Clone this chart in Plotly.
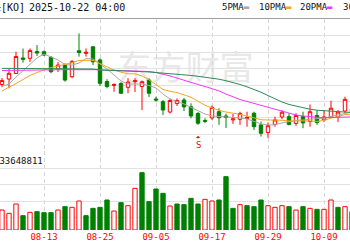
import plotly.graph_objects as go

# ---------------- data ----------------
dates = ["08-05", "08-06", "08-07", "08-08", "08-11", "08-12", "08-13", "08-14", "08-15",
         "08-18", "08-19", "08-20", "08-21", "08-22", "08-25", "08-26", "08-27", "08-28",
         "08-29", "09-02", "09-03", "09-04", "09-05", "09-08", "09-09", "09-10", "09-11",
         "09-12", "09-15", "09-16", "09-17", "09-18", "09-19", "09-22", "09-23", "09-24",
         "09-25", "09-26", "09-29", "09-30", "10-01", "10-02", "10-03", "10-06", "10-07",
         "10-08", "10-09", "10-10", "10-13", "10-14", "10-15"]

tick_dates = ["08-13", "08-25", "09-05", "09-17", "09-29", "10-09"]

opens = [68.03, 68.36, 68.70, 69.64, 69.62, 70.03, 70.02, 69.68, 68.97, 69.21,
         68.50, 70.08, 69.92, 70.32, 69.52, 68.21, 67.97, 68.09, 67.86, 68.20,
         67.91, 68.30, 67.15, 66.99, 66.36, 66.88, 67.09, 66.68, 66.27, 65.85,
         66.00, 66.38, 66.12, 65.88, 65.92, 65.97, 66.29, 65.58, 65.12, 65.61,
         66.06, 66.08, 65.67, 66.09, 65.78, 66.15, 65.88, 66.08, 66.06, 66.42,
         66.55]
highs = [68.42, 68.97, 70.02, 70.21, 70.22, 70.42, 70.09, 69.76, 69.39, 69.32,
         69.52, 71.13, 70.22, 70.36, 69.62, 68.35, 68.10, 68.18, 68.41, 68.41,
         68.27, 68.41, 67.29, 67.09, 67.18, 67.19, 67.21, 66.89, 66.36, 65.98,
         66.75, 66.59, 66.27, 66.24, 66.38, 66.38, 66.38, 65.78, 65.73, 66.08,
         66.48, 66.27, 66.29, 66.38, 66.82, 66.48, 66.48, 67.05, 66.48, 67.29,
         66.67]
lows = [67.86, 67.80, 68.67, 69.36, 69.39, 69.76, 69.76, 68.71, 68.79, 68.20,
        68.41, 69.72, 69.72, 69.21, 67.94, 67.80, 67.59, 67.45, 67.50, 67.58,
        66.48, 67.27, 66.99, 66.18, 66.27, 66.73, 66.42, 65.98, 65.58, 65.68,
        65.88, 65.58, 65.39, 65.64, 65.58, 65.47, 65.27, 64.87, 64.79, 65.47,
        65.92, 65.55, 65.52, 65.38, 65.47, 65.58, 65.76, 65.98, 65.76, 66.29,
        66.18]
closes = [68.27, 68.71, 69.73, 69.56, 70.09, 69.94, 69.82, 68.81, 69.21, 68.30,
          69.42, 69.97, 69.98, 69.41, 68.10, 67.91, 68.03, 67.50, 68.18, 68.26,
          68.20, 67.50, 67.09, 66.48, 67.06, 67.06, 66.67, 66.12, 65.68, 65.80,
          66.64, 66.01, 66.03, 65.94, 66.27, 66.03, 65.47, 65.07, 65.53, 65.88,
          66.35, 65.61, 66.15, 65.70, 66.38, 65.73, 66.06, 66.59, 66.36, 67.13,
          66.30]

ma5 = [67.91, 68.06, 68.48, 68.85, 69.27, 69.64, 69.88, 69.70, 69.52, 69.24,
       69.21, 69.33, 69.61, 69.58, 69.30, 68.97, 68.61, 68.24, 68.06, 68.06,
       68.06, 67.97, 67.82, 67.45, 67.15, 67.00, 66.85, 66.64, 66.42, 66.24,
       66.12, 66.09, 66.09, 66.03, 66.00, 65.94, 65.79, 65.64, 65.58, 65.58,
       65.70, 65.79, 65.85, 65.88, 65.91, 65.95, 66.00, 66.09, 66.18, 66.27,
       66.36]
ma10 = [67.64, 67.85, 68.09, 68.33, 68.58, 68.76, 68.91, 69.06, 69.15, 69.24,
        69.36, 69.49, 69.51, 69.50, 69.30, 69.09, 68.91, 68.78, 68.68, 68.68,
        68.55, 68.31, 68.02, 67.73, 67.62, 67.54, 67.40, 67.26, 67.01, 66.77,
        66.61, 66.46, 66.36, 66.30, 66.22, 66.12, 66.00, 65.89, 65.88, 65.89,
        65.86, 65.82, 65.83, 65.81, 65.82, 65.79, 65.85, 66.00, 66.08, 66.21,
        66.20]
ma20 = [68.88, 68.89, 68.90, 68.91, 68.92, 68.93, 68.93, 68.93, 68.93, 68.93,
        68.93, 68.94, 68.94, 68.93, 68.92, 68.91, 68.90, 68.89, 68.88, 68.87,
        68.85, 68.82, 68.76, 68.67, 68.55, 68.42, 68.28, 68.15, 68.03, 67.91,
        67.79, 67.64, 67.45, 67.27, 67.12, 67.00, 66.88, 66.76, 66.64, 66.52,
        66.39, 66.27, 66.18, 66.12, 66.07, 66.04, 66.02, 66.02, 66.04, 66.05,
        66.06]
ma30 = [69.01, 69.01, 69.01, 69.01, 69.01, 69.01, 69.01, 69.01, 69.01, 69.00,
        68.99, 68.99, 68.98, 68.97, 68.91, 68.90, 68.88, 68.87, 68.85, 68.83,
        68.81, 68.79, 68.76, 68.73, 68.70, 68.67, 68.62, 68.58, 68.53, 68.48,
        68.42, 68.35, 68.26, 68.16, 68.03, 67.89, 67.73, 67.56, 67.36, 67.15,
        66.97, 66.82, 66.71, 66.61, 66.53, 66.47, 66.44, 66.41, 66.39, 66.36,
        66.33]

volumes = [12.0, 10.0, 15.6, 8.6, 10.6, 11.0, 10.4, 10.4, 12.0, 14.0,
           13.6, 17.4, 8.6, 13.0, 13.6, 18.0, 11.4, 16.4, 14.6, 25.0,
           34.4, 17.0, 24.6, 22.0, 14.4, 15.6, 15.2, 19.0, 15.6, 18.4,
           17.4, 18.0, 32.0, 13.0, 15.2, 14.6, 14.0, 18.0, 14.6, 13.6,
           14.6, 14.0, 12.0, 14.0, 13.0, 12.4, 12.4, 18.0, 13.6, 14.0,
           11.0]
vol_up = [1, 1, 1, 0, 1, 0, 0, 0, 1, 0,
          1, 1, 0, 0, 0, 0, 1, 0, 1, 1,
          0, 0, 0, 0, 1, 0, 0, 0, 0, 1,
          1, 0, 0, 0, 1, 0, 0, 0, 1, 1,
          1, 0, 1, 0, 1, 0, 1, 1, 0, 1,
          0]

signal_date = "09-15"
signal_text = "S"
title_name = "可口可乐[KO]"
title_time = "2025-10-22 04:00"
vol_label = "成交量:33648811"
ma_names = ["5PMA", "10PMA", "20PMA", "30PMA"]

for arr in (opens, highs, lows, closes, ma5, ma10, ma20, ma30, volumes, vol_up):
    assert len(arr) == len(dates), len(arr)

# ---------------- styles ----------------
RED = "#ff0000"
GREEN = "#008000"
MA_COLORS = ["#a8a8a8", "#f5a623", "#ff33ff", "#2e8b57"]
GRID = "#e2e2e2"
VGRID = "#d4d4d4"
MONO = "DejaVu Sans Mono"

fig = go.Figure()

# volume bars
fig.add_trace(go.Bar(
    x=dates, y=volumes, xaxis="x", yaxis="y2", width=0.62,
    marker=dict(color=["white" if u else GREEN for u in vol_up],
                line=dict(color=[RED if u else GREEN for u in vol_up], width=1)),
    hoverinfo="skip"))

# candles
fig.add_trace(go.Candlestick(
    x=dates, open=opens, high=highs, low=lows, close=closes,
    xaxis="x2", yaxis="y", whiskerwidth=0,
    increasing=dict(line=dict(color=RED, width=1), fillcolor="white"),
    decreasing=dict(line=dict(color=GREEN, width=1), fillcolor=GREEN),
    hoverinfo="skip"))

# moving averages
for vals, col in zip([ma5, ma10, ma20, ma30], MA_COLORS):
    fig.add_trace(go.Scatter(x=dates, y=vals, xaxis="x2", yaxis="y", mode="lines",
                             line=dict(color=col, width=1), hoverinfo="skip"))

x_range = [-0.2857, 49.714]

fig.update_layout(
    width=350, height=250, autosize=False,
    margin=dict(l=0, r=0, t=0, b=0),
    paper_bgcolor="white", plot_bgcolor="rgba(0,0,0,0)",
    showlegend=False,
    xaxis=dict(domain=[0, 1], anchor="y2", type="category", range=x_range,
               tickvals=tick_dates, ticktext=tick_dates, ticks="",
               tickfont=dict(family=MONO, size=9, color=RED),
               showgrid=True, gridcolor=VGRID, griddash="4px,3px", gridwidth=1,
               zeroline=False, showline=False, rangeslider=dict(visible=False)),
    xaxis2=dict(matches="x", anchor="y", side="top", type="category", range=x_range,
                tickvals=tick_dates, showticklabels=False, ticks="",
                showgrid=True, gridcolor=VGRID, griddash="4px,3px", gridwidth=1,
                zeroline=False, showline=True, linecolor="#a0a0a0", linewidth=1,
                rangeslider=dict(visible=False)),
    yaxis=dict(domain=[0.396, 0.924], anchor="x2", range=[63.995, 72.005],
               tick0=64, dtick=1, showticklabels=False, ticks="",
               showgrid=True, gridcolor=GRID, zeroline=False),
    yaxis2=dict(domain=[0.08, 0.396], anchor="x", range=[0, 47.4],
                tick0=17.4, dtick=9.9, showticklabels=False, ticks="",
                showgrid=True, gridcolor=GRID, zeroline=False),
)

# watermark (below the data)
fig.add_shape(type="rect", xref="paper", yref="paper", x0=0.31, x1=0.75, y0=0.64, y1=0.80,
              line=dict(width=0), fillcolor="rgba(0,0,0,0)", layer="below",
              label=dict(text="东方财富", textposition="middle center",
                         font=dict(family="Noto Sans CJK SC", size=34, color="#e8e8e8")))

# title
fig.add_annotation(text=title_name, xref="paper", yref="paper", x=27 / 350, y=0.97,
                   xanchor="right", yanchor="middle", showarrow=False,
                   font=dict(family=MONO, size=10, color="#111"))
fig.add_annotation(text=title_time, xref="paper", yref="paper", x=27 / 350, y=0.97,
                   xanchor="left", yanchor="middle", showarrow=False,
                   font=dict(family=MONO, size=10, color="#111"))

# legend
leg_x = [220, 257, 298, 341]
for name, col, lx in zip(ma_names, MA_COLORS, leg_x):
    fig.add_annotation(text=f"{name}<span style='color:{col}'>▬</span>",
                       xref="paper", yref="paper", x=lx / 350, y=0.972,
                       xanchor="left", yanchor="middle", showarrow=False,
                       font=dict(family=MONO, size=9, color="#111"))

# volume label
fig.add_annotation(text=vol_label, xref="paper", yref="paper", x=45 / 350, y=1 - 161 / 250,
                   xanchor="right", yanchor="middle", showarrow=False,
                   font=dict(family=MONO, size=9, color="#111"))

# sell signal
sig_i = dates.index(signal_date)
fig.add_annotation(text=signal_text, x=signal_date, y=lows[sig_i], xref="x2", yref="y",
                   yshift=-11, showarrow=True, ax=0, ay=9, arrowhead=1, arrowsize=0.7,
                   arrowwidth=1, arrowcolor=RED,
                   font=dict(family=MONO, size=9, color=RED))

fig.write_html("out.html", config={"displayModeBar": False})
